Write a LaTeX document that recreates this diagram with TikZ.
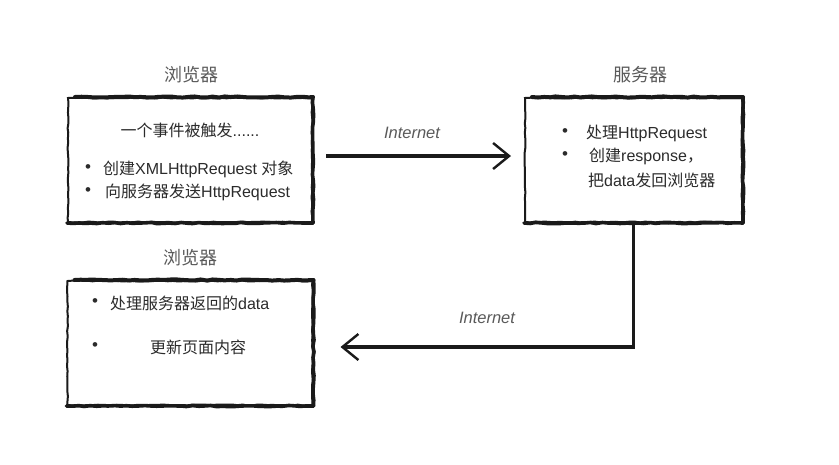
\documentclass[tikz,border=0pt]{standalone}
\usepackage{fontspec}
\setmainfont{Liberation Sans}
\newfontfamily\zhfont{Noto Sans CJK SC}
\newcommand{\zh}[1]{{\zhfont #1}}
\usetikzlibrary{arrows.meta,decorations.pathmorphing}
\definecolor{ink}{HTML}{1A1A1A}
\definecolor{txtc}{HTML}{2B2B2B}
\definecolor{titc}{HTML}{5A5A5A}
\begin{document}
\begin{tikzpicture}[x=1pt,y=-1pt,
  sketchbox/.style={draw=ink, line width=2pt, rectangle, inner sep=0pt,
    decorate, decoration={random steps, segment length=5pt, amplitude=0.5pt}},
  brush/.style={draw=ink, line width=#1, line cap=round,
    decorate, decoration={random steps, segment length=6pt, amplitude=0.6pt}},
  titlelbl/.style={font=\zhfont\fontsize{18}{21}\selectfont, text=titc},
  txt/.style={font=\fontsize{16}{19}\selectfont, text=txtc, inner sep=0pt},
  bul/.style={font=\fontsize{17}{19}\selectfont, text=txtc, inner sep=0pt},
  netlbl/.style={font=\itshape\fontsize{16.5}{19}\selectfont, text=titc},
  conn/.style={draw=ink, line width=3.6pt,
    -{Straight Barb[length=16pt,width=26pt,line width=2.4pt]}}
]
\useasboundingbox (0,0) rectangle (839,464);
\fill[white] (0,0) rectangle (839,464);

% boxes
\node[sketchbox, minimum width=244pt, minimum height=124pt] (b1) at (190,160) {};
\node[sketchbox, minimum width=217pt, minimum height=124pt] (b2) at (633.5,160) {};
\node[sketchbox, minimum width=245pt, minimum height=124pt] (b3) at (190,343) {};
\foreach \b in {b1,b2,b3}{
  \draw[brush=4pt] ([xshift=8pt]\b.north west) -- (\b.north east);
  \draw[brush=3.6pt] (\b.north east) -- (\b.south east);
  \draw[brush=3.6pt] (\b.south west) -- (\b.south east);
}

% titles
\node[titlelbl] (t1) at (191,75) {浏览器};
\node[titlelbl] (t2) at (640,75) {服务器};
\node[titlelbl] (t3) at (190,258) {浏览器};

% box 1 text
\node[txt] (e1) at (190,130) {\zh{一个事件被触发}......};
\node[bul] (p1) at (88,169) {•};
\node[txt, anchor=west] (a1) at (103,169) {\zh{创建}XMLHttpRequest \zh{对象}};
\node[bul] (p2) at (88,192) {•};
\node[txt, anchor=west] (a2) at (105,192) {\zh{向服务器发送}HttpRequest};

% box 2 text
\node[bul] (p3) at (565,133) {•};
\node[txt, anchor=west] (s1) at (586,133) {\zh{处理}HttpRequest};
\node[bul] (p4) at (565,156) {•};
\node[txt, anchor=west] (s2) at (589,156) {\zh{创建}response\zh{，}};
\node[txt, anchor=west] (s3) at (588,180) {\zh{把}data\zh{发回浏览器}};

% box 3 text
\node[bul] (p5) at (95,303) {•};
\node[txt, anchor=west] (c1) at (110,303) {\zh{处理服务器返回的}data};
\node[bul] (p6) at (95,347) {•};
\node[txt, anchor=west] (c2) at (150,347) {\zh{更新页面内容}};

% connectors
\node[netlbl] (n1) at (412,133) {Internet};
\node[netlbl] (n2) at (487,318) {Internet};
\draw[conn] ([shift={(13,-4)}]b1.east) -- ([shift={(-13,-4)}]b2.west);
\draw[conn] (b2.south) |- ([shift={(27,4)}]b3.east);
\end{tikzpicture}
\end{document}
